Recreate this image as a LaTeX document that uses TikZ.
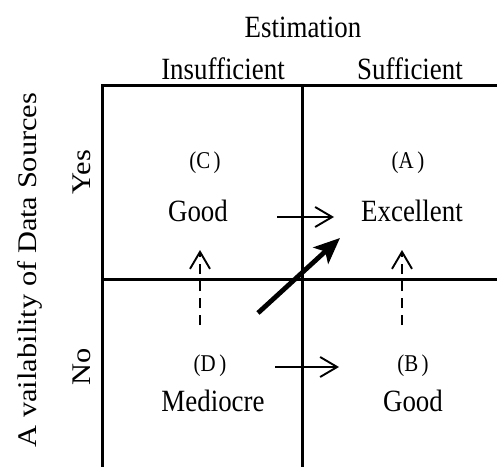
\documentclass[tikz,border=0pt]{standalone}
\usepackage{fontspec}
\setmainfont{Liberation Serif}
\usetikzlibrary{arrows.meta}
\newcommand{\tall}[1]{\scalebox{1}[1.15]{#1}}
\newcommand{\wide}[1]{\scalebox{1.13}[1]{#1}}
\tikzset{
  lbl/.style={font=\fontsize{27}{30}\selectfont, inner sep=1bp},
  tag/.style={font=\fontsize{21}{23}\selectfont, inner sep=1bp},
  grid/.style={line width=3bp},
  move/.style={line width=1.9bp, -{Straight Barb[length=17bp,width=20bp,line width=1.9bp]}},
  maybe/.style={move, dash pattern=on 10bp off 7bp},
  jump/.style={line width=4.8bp, -{Stealth[length=26bp,width=22bp,inset=6bp]}}
}
\begin{document}
\begin{tikzpicture}[x=1bp,y=-1bp]
\useasboundingbox (0,0) rectangle (497,467);
% the table
\draw[grid] (102,467)--(102,86)--(497,86);
\draw[grid] (302,86)--(302,467);
\draw[grid] (102,279)--(497,279);
% headings
\node[lbl] (est) at (303,27) {\tall{Estimation}};
\node[lbl] (insuf) at (223,69) {\tall{Insufficient}};
\node[lbl] (suf) at (410,69) {\tall{Sufficient}};
\node[lbl,rotate=90] (avail) at (30,270) {\wide{A vailability of Data Sources}};
\node[lbl,rotate=90] (yes) at (82,172) {\wide{Yes}};
\node[lbl,rotate=90] (no) at (82,367) {\wide{No}};
% cells
\node[tag] (tagC) at (205,163) {\tall{(C\,)}};
\node[lbl] (goodC) at (198,211) {\tall{Good}};
\node[tag] (tagA) at (408,163) {\tall{(A\,)}};
\node[lbl] (excA) at (412,211) {\tall{Excellent}};
\node[tag] (tagD) at (210,366) {\tall{(D\,)}};
\node[lbl] (medD) at (213,401) {\tall{Mediocre}};
\node[tag] (tagB) at (413,366) {\tall{(B\,)}};
\node[lbl] (goodB) at (413,401) {\tall{Good}};
% moves between cells
\coordinate (ca0) at (277,217); \coordinate (ca1) at (334,217);
\coordinate (db0) at (275,367); \coordinate (db1) at (339,367);
\coordinate (dc0) at (200,325); \coordinate (dc1) at (200,250);
\coordinate (ba0) at (402,325); \coordinate (ba1) at (402,250);
\coordinate (da0) at (258,313); \coordinate (da1) at (340,238);
\draw[move] (ca0)--(ca1);
\draw[move] (db0)--(db1);
\draw[maybe] (dc0)--(dc1);
\draw[maybe] (ba0)--(ba1);
\draw[jump] (da0)--(da1);
\end{tikzpicture}
\end{document}
